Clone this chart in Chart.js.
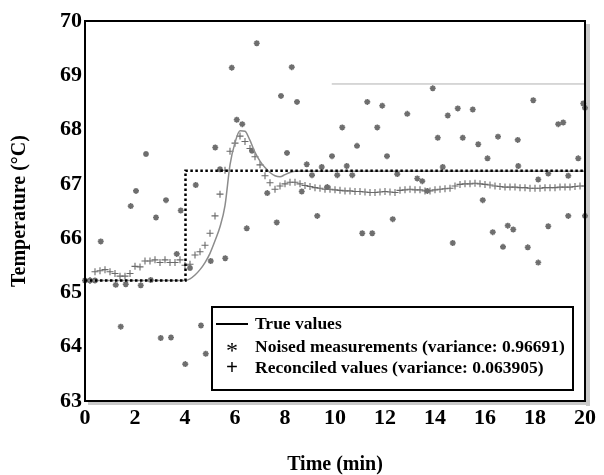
<!DOCTYPE html>
<html>
<head>
<meta charset="utf-8">
<script src="https://cdn.jsdelivr.net/npm/chart.js@4.4.0/dist/chart.umd.min.js"></script>
<style>
  html, body { margin: 0; padding: 0; background: #fff; }
</style>
</head>
<body>
<canvas id="chart" width="604" height="475"></canvas>
<script>
// true process response
const trueTime = [0, 4.0, 4.2, 4.4, 4.6, 4.8, 5.0, 5.2, 5.4, 5.6, 5.8, 6.0, 6.2, 6.4, 6.6, 6.8, 7.0, 7.2, 7.4, 7.6, 7.8, 8.0, 8.2, 8.4, 20];
const trueTemp = [65.22, 65.22, 65.25, 65.32, 65.42, 65.55, 65.72, 65.95, 66.21, 66.6, 67.35, 67.76, 67.98, 67.97, 67.8, 67.58, 67.42, 67.3, 67.21, 67.15, 67.13, 67.17, 67.21, 67.23, 67.23];

// set point step (dotted)
const stepTime = [0, 4.02, 4.02, 20];
const stepTemp = [65.22, 65.22, 67.24, 67.24];

// noised measurements
const measTime = [0.0, 0.2, 0.4, 0.63, 1.23, 1.43, 1.63, 1.83, 2.04, 2.23, 2.44, 2.63, 2.84, 3.03, 3.24, 3.44, 3.67, 3.83, 4.01, 4.2,
  4.43, 4.64, 4.83, 5.03, 5.21, 5.4, 5.61, 5.87, 6.07, 6.29, 6.47, 6.68, 6.87, 7.29, 7.67, 7.84, 8.08, 8.27, 8.48, 8.67,
  8.87, 9.08, 9.29, 9.47, 9.69, 9.88, 10.09, 10.29, 10.47, 10.69, 10.88, 11.09, 11.29, 11.49, 11.69, 11.89, 12.08, 12.31, 12.49, 12.89,
  13.29, 13.49, 13.69, 13.91, 14.11, 14.31, 14.51, 14.71, 14.91, 15.11, 15.51, 15.73, 15.91, 16.1, 16.31, 16.52, 16.72, 16.91, 17.13, 17.31,
  17.33, 17.71, 17.93, 18.13, 18.13, 18.53, 18.53, 18.93, 19.13, 19.33, 19.33, 19.73, 19.93, 20.0, 20.0];
const measTemp = [65.22, 65.22, 65.22, 65.94, 65.14, 64.37, 65.15, 66.59, 66.87, 65.13, 67.55, 65.23, 66.38, 64.16, 66.7, 64.17, 65.71, 66.51, 63.68, 65.45,
  66.98, 64.39, 63.87, 65.58, 67.67, 67.27, 65.63, 69.14, 68.18, 68.1, 66.18, 67.61, 69.59, 66.83, 66.29, 68.62, 67.57, 69.15, 68.51, 66.86,
  67.36, 67.16, 66.41, 67.31, 66.94, 67.51, 67.16, 68.04, 67.33, 67.16, 67.7, 66.09, 68.51, 66.09, 68.04, 68.44, 67.51, 66.35, 67.18, 68.29,
  67.1, 67.05, 66.87, 68.76, 67.85, 67.31, 68.26, 65.91, 68.39, 67.85, 68.37, 67.73, 66.7, 67.47, 66.11, 67.87, 65.84, 66.23, 66.16, 67.81,
  67.33, 65.83, 68.54, 67.08, 65.55, 67.19, 66.22, 68.1, 68.13, 67.15, 66.41, 67.47, 68.48, 68.4, 66.41];

// reconciled values, one every 0.2 min
const reconTime = [0, 0.2, 0.4, 0.6, 0.8, 1.0, 1.2, 1.4, 1.6, 1.8, 2.0, 2.2, 2.4, 2.6, 2.8, 3.0, 3.2, 3.4, 3.6, 3.8,
  4.0, 4.2, 4.4, 4.6, 4.8, 5.0, 5.2, 5.4, 5.6, 5.8, 6.0, 6.2, 6.4, 6.6, 6.8, 7.0, 7.2, 7.4, 7.6, 7.8,
  8.0, 8.2, 8.4, 8.6, 8.8, 9.0, 9.2, 9.4, 9.6, 9.8, 10.0, 10.2, 10.4, 10.6, 10.8, 11.0, 11.2, 11.4, 11.6, 11.8,
  12.0, 12.2, 12.4, 12.6, 12.8, 13.0, 13.2, 13.4, 13.6, 13.8, 14.0, 14.2, 14.4, 14.6, 14.8, 15.0, 15.2, 15.4, 15.6, 15.8,
  16.0, 16.2, 16.4, 16.6, 16.8, 17.0, 17.2, 17.4, 17.6, 17.8, 18.0, 18.2, 18.4, 18.6, 18.8, 19.0, 19.2, 19.4, 19.6, 19.8, 20.0];
const reconTemp = [65.22, 65.22, 65.38, 65.4, 65.42, 65.38, 65.35, 65.3, 65.3, 65.35, 65.48, 65.47, 65.58, 65.58, 65.6, 65.55, 65.6, 65.55, 65.55, 65.6,
  65.5, 65.52, 65.69, 65.75, 65.87, 66.09, 66.41, 66.81, 67.25, 67.6, 67.75, 67.88, 67.78, 67.65, 67.5, 67.35, 67.15, 67.02, 66.9, 66.96,
  67.0, 67.03, 67.03, 67.0, 66.97, 66.95, 66.93, 66.92, 66.9, 66.9, 66.89, 66.88, 66.87, 66.87, 66.86, 66.86, 66.85, 66.84, 66.84, 66.85,
  66.86, 66.85, 66.84, 66.88, 66.89, 66.9, 66.89, 66.89, 66.87, 66.87, 66.89, 66.9, 66.91, 66.92, 66.96, 66.99, 67.0, 67.0, 67.01, 67.0,
  66.99, 66.98, 66.96, 66.95, 66.94, 66.94, 66.94, 66.93, 66.93, 66.92, 66.92, 66.92, 66.93, 66.93, 66.93, 66.94, 66.94, 66.94, 66.95, 66.96, 66.96];

// faint scan line in the source figure
const scanTime = [9.87, 20];
const scanTemp = [68.84, 68.84];

const xTicks = [0, 2, 4, 6, 8, 10, 12, 14, 16, 18, 20];
const yTicks = [63, 64, 65, 66, 67, 68, 69, 70];

const legendLabels = [
  "True values",
  "Noised measurements (variance: 0.96691)",
  "Reconciled values (variance: 0.063905)"
];

const SERIF = "'Liberation Serif', 'Times New Roman', serif";

function pts(xs, ys) {
  return xs.map((x, i) => ({ x: x, y: ys[i] }));
}

const framePlugin = {
  id: "frame",
  beforeDatasetsDraw(chart) {
    const { ctx, chartArea: a } = chart;
    ctx.save();
    ctx.fillStyle = "#c9c9c9";
    ctx.fillRect(a.right + 1, a.top + 3, 4, a.bottom - a.top + 2);
    ctx.fillRect(a.left + 3, a.bottom + 1, a.right - a.left + 2, 3);
    ctx.restore();
  },
  afterDatasetsDraw(chart) {
    const { ctx, chartArea: a } = chart;
    ctx.save();
    ctx.strokeStyle = "#000";
    ctx.lineWidth = 2;
    ctx.strokeRect(a.left, a.top, a.right - a.left, a.bottom - a.top);

    // legend box
    const bx = a.left + 127, by = a.top + 286, bw = 361, bh = 83;
    ctx.fillStyle = "#fff";
    ctx.fillRect(bx, by, bw, bh);
    ctx.strokeRect(bx, by, bw, bh);

    const rows = [by + 17, by + 40, by + 61];
    const tx = bx + 43;
    ctx.fillStyle = "#000";
    ctx.font = "bold 17.5px " + SERIF;
    ctx.textBaseline = "middle";
    ctx.textAlign = "left";
    legendLabels.forEach((t, i) => ctx.fillText(t, tx, rows[i]));

    ctx.beginPath();
    ctx.moveTo(bx + 4, rows[0]);
    ctx.lineTo(bx + 36, rows[0]);
    ctx.lineWidth = 2;
    ctx.stroke();

    ctx.textAlign = "center";
    ctx.font = "24px " + SERIF;
    ctx.fillText("*", bx + 20, rows[1] + 5);
    ctx.font = "bold 21px " + SERIF;
    ctx.fillText("+", bx + 20, rows[2] + 1);
    ctx.restore();
  }
};

new Chart(document.getElementById("chart"), {
  type: "line",
  data: {
    datasets: [
      {
        label: legendLabels[0],
        data: pts(trueTime, trueTemp),
        borderColor: "#8c8c8c",
        borderWidth: 1.5,
        pointRadius: 0,
        cubicInterpolationMode: "monotone",
        order: 1
      },
      {
        label: legendLabels[1],
        data: pts(measTime, measTemp),
        showLine: false,
        pointStyle: "star",
        pointRadius: 3,
        borderColor: "#6e6e6e",
        borderWidth: 1.6,
        clip: false,
        order: 2
      },
      {
        label: legendLabels[2],
        data: pts(reconTime, reconTemp),
        showLine: false,
        pointStyle: "cross",
        pointRadius: 3.5,
        borderColor: "#6a6a6a",
        borderWidth: 1.1,
        order: 3
      },
      {
        label: "Set point",
        data: pts(stepTime, stepTemp),
        borderColor: "#000",
        borderWidth: 2.5,
        borderDash: [2.5, 2.5],
        pointRadius: 0,
        order: 0
      },
      {
        label: "scan",
        data: pts(scanTime, scanTemp),
        borderColor: "#b0b0b0",
        borderWidth: 1,
        pointRadius: 0,
        order: 4
      }
    ]
  },
  options: {
    responsive: false,
    animation: false,
    devicePixelRatio: 1,
    layout: { padding: { top: 21, right: 19, left: 0, bottom: 0 } },
    plugins: { legend: { display: false }, tooltip: { enabled: false } },
    scales: {
      x: {
        type: "linear",
        min: 0,
        max: 20,
        afterBuildTicks: (s) => { s.ticks = xTicks.map(v => ({ value: v })); },
        afterFit: (s) => { s.height = 74; },
        grid: { display: false, drawTicks: false },
        border: { display: false },
        ticks: { color: "#000", padding: 4, font: { family: SERIF, size: 22, weight: "bold" } },
        title: {
          display: true,
          text: "Time (min)",
          color: "#000",
          padding: { top: 0, bottom: -2 },
          font: { family: SERIF, size: 20, weight: "bold" }
        }
      },
      y: {
        min: 63,
        max: 70,
        afterBuildTicks: (s) => { s.ticks = yTicks.map(v => ({ value: v })); },
        afterFit: (s) => { s.width = 85; },
        grid: { display: false, drawTicks: false },
        border: { display: false },
        ticks: { color: "#000", padding: 3, font: { family: SERIF, size: 22, weight: "bold" } },
        title: {
          display: true,
          text: "Temperature (°C)",
          color: "#000",
          padding: { top: 8, bottom: 0 },
          font: { family: SERIF, size: 20, weight: "bold" }
        }
      }
    }
  },
  plugins: [framePlugin]
});
</script>
</body>
</html>
